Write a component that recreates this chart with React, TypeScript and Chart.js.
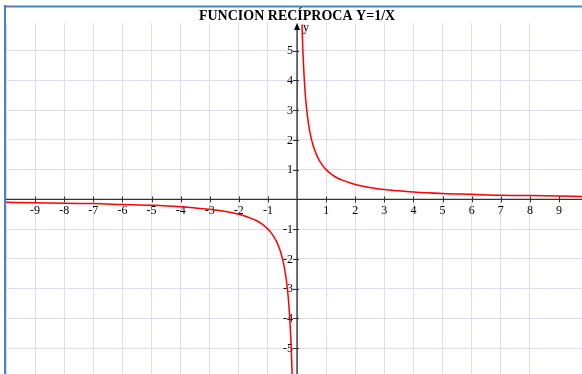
import { useEffect, useRef } from 'react';
import { Chart, registerables } from 'chart.js';

Chart.register(...registerables);

const TITLE = 'FUNCION RECÍPROCA Y=1/X';
const AXIS_NAME_Y = 'y';
const X_TICKS = [-9, -8, -7, -6, -5, -4, -3, -2, -1, 1, 2, 3, 4, 5, 6, 7, 8, 9];
const Y_TICKS = [-5, -4, -3, -2, -1, 1, 2, 3, 4, 5];

const POS_X = [0.17, 0.18, 0.2, 0.22, 0.25, 0.28, 0.3, 0.33, 0.36, 0.4, 0.45, 0.5, 0.55, 0.6, 0.7, 0.8, 0.9, 1, 1.2, 1.4, 1.6, 1.8, 2, 2.5, 3, 3.5, 4, 5, 6, 7, 8, 9, 9.8];
const POS_Y = [5.88, 5.56, 5, 4.55, 4, 3.57, 3.33, 3.03, 2.78, 2.5, 2.22, 2, 1.82, 1.67, 1.43, 1.25, 1.11, 1, 0.83, 0.71, 0.63, 0.56, 0.5, 0.4, 0.33, 0.29, 0.25, 0.2, 0.17, 0.14, 0.13, 0.11, 0.1];
const NEG_X = [-10, -9, -8, -7, -6, -5, -4, -3.5, -3, -2.5, -2, -1.8, -1.6, -1.4, -1.2, -1, -0.9, -0.8, -0.7, -0.6, -0.55, -0.5, -0.45, -0.4, -0.36, -0.33, -0.3, -0.28, -0.25, -0.22, -0.2, -0.18, -0.17];
const NEG_Y = [-0.1, -0.11, -0.13, -0.14, -0.17, -0.2, -0.25, -0.29, -0.33, -0.4, -0.5, -0.56, -0.63, -0.71, -0.83, -1, -1.11, -1.25, -1.43, -1.67, -1.82, -2, -2.22, -2.5, -2.78, -3.03, -3.33, -3.57, -4, -4.55, -5, -5.56, -5.88];

const X_MIN = -10;
const X_MAX = 9.79;
const Y_MIN = -5.87;
const Y_MAX = 5.93;

const SERIF = "'Liberation Serif', 'Times New Roman', serif";
const GRID = '#dcdcf6';
const RED = '#ff0000';
const AXIS = '#333333';
const FRAME = '#4f81bd';

const axesPlugin = {
  id: 'centerAxes',
  beforeDatasetsDraw(chart: any) {
    const { ctx, chartArea, scales } = chart;
    const xs = scales.x;
    const ys = scales.y;
    const x0 = xs.getPixelForValue(0);
    const y0 = ys.getPixelForValue(0);
    ctx.save();
    ctx.strokeStyle = AXIS;
    ctx.lineWidth = 1.4;
    ctx.beginPath();
    ctx.moveTo(chartArea.left, y0);
    ctx.lineTo(chartArea.right, y0);
    ctx.moveTo(x0, chartArea.top + 2);
    ctx.lineTo(x0, chartArea.bottom);
    ctx.stroke();
    // arrow head on y axis
    ctx.fillStyle = '#000';
    ctx.beginPath();
    ctx.moveTo(x0, chartArea.top);
    ctx.lineTo(x0 - 3, chartArea.top + 7);
    ctx.lineTo(x0 + 3, chartArea.top + 7);
    ctx.closePath();
    ctx.fill();
    // ticks
    ctx.lineWidth = 1;
    ctx.strokeStyle = AXIS;
    ctx.beginPath();
    X_TICKS.forEach((v) => {
      const px = Math.round(xs.getPixelForValue(v)) + 0.5;
      ctx.moveTo(px, y0 - 3);
      ctx.lineTo(px, y0 + 3);
    });
    Y_TICKS.forEach((v) => {
      const py = Math.round(ys.getPixelForValue(v)) + 0.5;
      ctx.moveTo(x0 - 4, py);
      ctx.lineTo(x0 + 2, py);
    });
    ctx.stroke();
    // labels
    ctx.fillStyle = '#000';
    ctx.font = `12px ${SERIF}`;
    ctx.textAlign = 'center';
    ctx.textBaseline = 'middle';
    X_TICKS.forEach((v) => {
      ctx.fillText(String(v), xs.getPixelForValue(v), y0 + 11);
    });
    ctx.textAlign = 'right';
    Y_TICKS.forEach((v) => {
      ctx.fillText(String(v), x0 - 4, ys.getPixelForValue(v) + 0.5);
    });
    ctx.textAlign = 'left';
    ctx.textBaseline = 'alphabetic';
    ctx.fillText(AXIS_NAME_Y, x0 + 6, chartArea.top + 8);
    // title, centred over the y axis
    ctx.font = `bold 14px ${SERIF}`;
    ctx.textAlign = 'center';
    ctx.fillText(TITLE, x0, 20);
    ctx.restore();
  },
  afterDraw(chart: any) {
    const { ctx, width, height } = chart;
    ctx.save();
    ctx.fillStyle = '#a9c1e4';
    ctx.fillRect(4, 5, width - 4, 1);
    ctx.fillStyle = FRAME;
    ctx.fillRect(4, 6, width - 4, 1.5);
    ctx.fillRect(4, 5, 2, height - 5);
    ctx.restore();
  },
};

function gridColor(c: any) {
  const v = c.tick ? c.tick.value : NaN;
  return Number.isInteger(v) ? GRID : 'rgba(0,0,0,0)';
}

export default function App() {
  const ref = useRef<HTMLCanvasElement | null>(null);
  useEffect(() => {
    document.body.style.margin = '0';
    const canvas = ref.current;
    if (!canvas) return;
    const chart = new Chart(canvas, {
      type: 'scatter',
      data: {
        datasets: [
          {
            label: 'x>0',
            data: POS_X.map((x, i) => ({ x, y: POS_Y[i] })),
            showLine: true,
            borderColor: RED,
            borderWidth: 1.5,
            pointRadius: 0,
            cubicInterpolationMode: 'monotone',
          },
          {
            label: 'x<0',
            data: NEG_X.map((x, i) => ({ x, y: NEG_Y[i] })),
            showLine: true,
            borderColor: RED,
            borderWidth: 1.5,
            pointRadius: 0,
            cubicInterpolationMode: 'monotone',
          },
        ],
      },
      options: {
        responsive: false,
        animation: false,
        layout: { padding: { left: 6, top: 23, right: 0, bottom: 0 } },
        plugins: {
          legend: { display: false },
          tooltip: { enabled: false },
          title: { display: false },
        },
        scales: {
          x: {
            type: 'linear',
            min: X_MIN,
            max: X_MAX,
            ticks: { display: false, stepSize: 1 },
            grid: { color: gridColor, drawTicks: false, lineWidth: 1 },
            border: { display: false },
          },
          y: {
            type: 'linear',
            min: Y_MIN,
            max: Y_MAX,
            ticks: { display: false, stepSize: 1 },
            grid: { color: gridColor, drawTicks: false, lineWidth: 1 },
            border: { display: false },
          },
        },
      },
      plugins: [axesPlugin],
    });
    return () => chart.destroy();
  }, []);
  return <canvas ref={ref} width={582} height={374} style={{ display: 'block' }} />;
}
